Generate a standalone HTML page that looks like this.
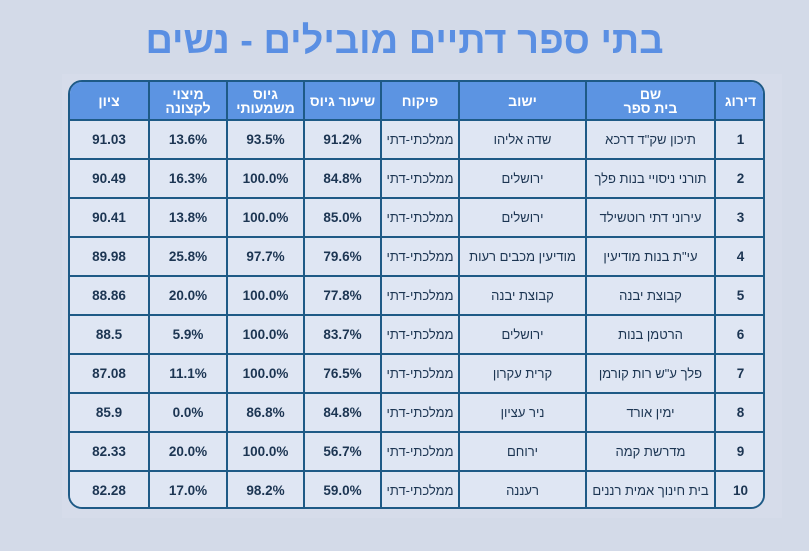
<!DOCTYPE html>
<html><head><meta charset="utf-8"><style>
body{margin:0;width:809px;height:551px;background:#d3dae8;overflow:hidden;font-family:"Liberation Sans","Noto Sans CJK SC",sans-serif;position:relative}
.title{position:absolute;left:0;width:809px;top:20px;text-align:center;font-size:38px;font-weight:bold;color:#5a8fe3;direction:rtl}
.panel{position:absolute;left:62px;top:74px;width:720px;height:444px;background:#d6dcea}
.wrap{position:absolute;left:68px;top:80px;width:697px;height:429px;border:2px solid #1e5a86;border-radius:14px;overflow:hidden;box-sizing:border-box;background:#dfe6f3}
table{border-collapse:collapse;width:697px;margin:-2px;table-layout:fixed}
td,th{border:2px solid #1e5a86;text-align:center;padding:0;color:#1c3552;font-size:13px}
th{background:#5c94e2;color:#fff;height:37px;font-size:14px;line-height:14px;font-weight:bold}
td{height:37px;background:#dfe6f3}
td.n{font-weight:bold;font-size:13.5px}
td.h{direction:rtl;font-size:13px}
</style></head><body>
<div class="title">בתי ספר דתיים מובילים - נשים</div>
<div class="panel"></div>
<div class="wrap"><table>
<colgroup><col style="width:80px"><col style="width:78px"><col style="width:77px"><col style="width:77px"><col style="width:78px"><col style="width:127px"><col style="width:129px"><col style="width:51px"></colgroup>
<tr><th>ציון</th><th>מיצוי<br>לקצונה</th><th>גיוס<br>משמעותי</th><th>שיעור גיוס</th><th>פיקוח</th><th>ישוב</th><th>שם<br>בית ספר</th><th>דירוג</th></tr>
<tr><td class="n">91.03</td><td class="n">13.6%</td><td class="n">93.5%</td><td class="n">91.2%</td><td class="h">ממלכתי-דתי</td><td class="h">שדה אליהו</td><td class="h">תיכון שק"ד דרכא</td><td class="n">1</td></tr>
<tr><td class="n">90.49</td><td class="n">16.3%</td><td class="n">100.0%</td><td class="n">84.8%</td><td class="h">ממלכתי-דתי</td><td class="h">ירושלים</td><td class="h">תורני ניסויי בנות פלך</td><td class="n">2</td></tr>
<tr><td class="n">90.41</td><td class="n">13.8%</td><td class="n">100.0%</td><td class="n">85.0%</td><td class="h">ממלכתי-דתי</td><td class="h">ירושלים</td><td class="h">עירוני דתי רוטשילד</td><td class="n">3</td></tr>
<tr><td class="n">89.98</td><td class="n">25.8%</td><td class="n">97.7%</td><td class="n">79.6%</td><td class="h">ממלכתי-דתי</td><td class="h">מודיעין מכבים רעות</td><td class="h">עי"ת בנות מודיעין</td><td class="n">4</td></tr>
<tr><td class="n">88.86</td><td class="n">20.0%</td><td class="n">100.0%</td><td class="n">77.8%</td><td class="h">ממלכתי-דתי</td><td class="h">קבוצת יבנה</td><td class="h">קבוצת יבנה</td><td class="n">5</td></tr>
<tr><td class="n">88.5</td><td class="n">5.9%</td><td class="n">100.0%</td><td class="n">83.7%</td><td class="h">ממלכתי-דתי</td><td class="h">ירושלים</td><td class="h">הרטמן בנות</td><td class="n">6</td></tr>
<tr><td class="n">87.08</td><td class="n">11.1%</td><td class="n">100.0%</td><td class="n">76.5%</td><td class="h">ממלכתי-דתי</td><td class="h">קרית עקרון</td><td class="h">פלך ע"ש רות קורמן</td><td class="n">7</td></tr>
<tr><td class="n">85.9</td><td class="n">0.0%</td><td class="n">86.8%</td><td class="n">84.8%</td><td class="h">ממלכתי-דתי</td><td class="h">ניר עציון</td><td class="h">ימין אורד</td><td class="n">8</td></tr>
<tr><td class="n">82.33</td><td class="n">20.0%</td><td class="n">100.0%</td><td class="n">56.7%</td><td class="h">ממלכתי-דתי</td><td class="h">ירוחם</td><td class="h">מדרשת קמה</td><td class="n">9</td></tr>
<tr><td class="n">82.28</td><td class="n">17.0%</td><td class="n">98.2%</td><td class="n">59.0%</td><td class="h">ממלכתי-דתי</td><td class="h">רעננה</td><td class="h">בית חינוך אמית רננים</td><td class="n">10</td></tr>
</table></div>
</body></html>
